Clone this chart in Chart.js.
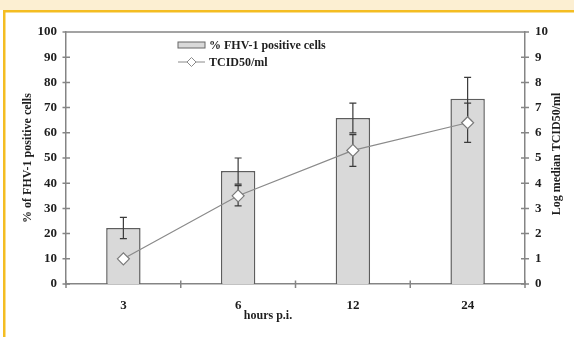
<!DOCTYPE html>
<html><head><meta charset="utf-8">
<script src="https://cdn.jsdelivr.net/npm/chart.js@4"></script>
<style>html,body{margin:0;padding:0;background:#fff}#wrap{width:574px;height:337px;position:relative}</style>
</head><body><div id="wrap"><canvas id="c" width="574" height="337"></canvas></div>
<script>
const categories = ['3', '6', '12', '24'];
const positiveCells = [22.2, 44.8, 65.9, 73.5];
const positiveCellsErr = [4.2, 5.2, 5.9, 8.5];
const tcid50 = [1.0, 3.5, 5.3, 6.4];
const tcid50Err = [0, 0.4, 0.63, 0.78];
const barLabel = '% FHV-1 positive cells';
const lineLabel = 'TCID50/ml';
const xTitle = 'hours p.i.';
const yTitle = '% of FHV-1 positive cells';
const y2Title = 'Log median TCID50/ml';

const FONT = '"Liberation Serif", "Times New Roman", serif';
const AXIS = '#858585';
const TXT = '#1e1e1e';

const framePlugin = {
  id: 'frame',
  beforeDraw(chart) {
    const ctx = chart.ctx;
    ctx.save();
    ctx.fillStyle = '#ffffff';
    ctx.fillRect(0, 0, chart.width, chart.height);
    ctx.fillStyle = '#fcefd2';
    ctx.fillRect(0, 0, chart.width, 10);
    ctx.fillStyle = '#f4bd22';
    ctx.fillRect(3, 10, chart.width - 3, 2.5);
    ctx.fillRect(3, 10, 2.5, chart.height - 10);
    ctx.restore();
  }
};

function drawErr(ctx, x, y1, y2) {
  ctx.beginPath();
  ctx.moveTo(x, y1); ctx.lineTo(x, y2);
  ctx.moveTo(x - 3.5, y1); ctx.lineTo(x + 3.5, y1);
  ctx.moveTo(x - 3.5, y2); ctx.lineTo(x + 3.5, y2);
  ctx.stroke();
}

const errPlugin = {
  id: 'errs',
  afterDatasetDraw(chart, args) {
    if (args.index !== 0) return;
    const ctx = chart.ctx, xs = chart.scales.x, y = chart.scales.y, y2 = chart.scales.y2;
    ctx.save();
    ctx.strokeStyle = '#3a3a3a';
    ctx.lineWidth = 1.2;
    categories.forEach((c, i) => {
      const x = xs.getPixelForValue(i);
      drawErr(ctx, x, y.getPixelForValue(positiveCells[i] + positiveCellsErr[i]), y.getPixelForValue(positiveCells[i] - positiveCellsErr[i]));
      if (tcid50Err[i] > 0) drawErr(ctx, x, y2.getPixelForValue(tcid50[i] + tcid50Err[i]), y2.getPixelForValue(tcid50[i] - tcid50Err[i]));
    });
    ctx.restore();
  }
};

const decoPlugin = {
  id: 'deco',
  afterDraw(chart) {
    const ctx = chart.ctx, a = chart.chartArea, xs = chart.scales.x, y = chart.scales.y, y2 = chart.scales.y2;
    ctx.save();
    ctx.strokeStyle = AXIS;
    ctx.lineWidth = 1.5;
    ctx.beginPath();
    ctx.moveTo(a.left, a.top); ctx.lineTo(a.right, a.top);
    y.ticks.forEach(t => { const p = y.getPixelForValue(t.value); ctx.moveTo(a.left - 3.5, p); ctx.lineTo(a.left + 4, p); });
    y2.ticks.forEach(t => { const p = y2.getPixelForValue(t.value); ctx.moveTo(a.right - 4, p); ctx.lineTo(a.right + 4, p); });
    const half = (xs.getPixelForValue(1) - xs.getPixelForValue(0)) / 2;
    for (let i = 0; i <= categories.length; i++) {
      const p = xs.getPixelForValue(0) - half + i * half * 2;
      ctx.moveTo(p, a.bottom - 3.5); ctx.lineTo(p, a.bottom + 4);
    }
    ctx.stroke();

    // titles
    ctx.fillStyle = TXT;
    ctx.font = 'bold 12px ' + FONT;
    ctx.textAlign = 'center';
    ctx.textBaseline = 'middle';
    ctx.fillText(xTitle, 268, 316);
    ctx.save(); ctx.translate(28, 158); ctx.rotate(-Math.PI / 2); ctx.fillText(yTitle, 0, 0); ctx.restore();
    ctx.save(); ctx.translate(557, 154); ctx.rotate(-Math.PI / 2); ctx.fillText(y2Title, 0, 0); ctx.restore();

    // legend
    ctx.textAlign = 'left';
    ctx.fillStyle = '#d9d9d9';
    ctx.fillRect(178, 42, 27, 6);
    ctx.strokeStyle = '#666';
    ctx.lineWidth = 1;
    ctx.strokeRect(178, 42, 27, 6);
    ctx.fillStyle = TXT;
    ctx.fillText(barLabel, 209, 45.5);
    ctx.strokeStyle = '#8a8a8a';
    ctx.beginPath(); ctx.moveTo(178, 62); ctx.lineTo(205, 62); ctx.stroke();
    ctx.fillStyle = '#fff';
    ctx.beginPath();
    ctx.moveTo(191.5, 57.5); ctx.lineTo(196, 62); ctx.lineTo(191.5, 66.5); ctx.lineTo(187, 62); ctx.closePath();
    ctx.fill(); ctx.stroke();
    ctx.fillStyle = TXT;
    ctx.fillText(lineLabel, 209, 62.5);
    ctx.restore();
  }
};

new Chart(document.getElementById('c'), {
  data: {
    labels: categories,
    datasets: [
      { type: 'bar', label: barLabel, data: positiveCells, yAxisID: 'y', order: 2,
        backgroundColor: '#d9d9d9', borderColor: '#5e5e5e', borderWidth: 1.5,
        barPercentage: 0.3, categoryPercentage: 1 },
      { type: 'line', label: lineLabel, data: tcid50, yAxisID: 'y2', order: 1,
        borderColor: '#8a8a8a', borderWidth: 1.2, pointStyle: 'rectRot', pointRadius: 6,
        pointBackgroundColor: '#ffffff', pointBorderColor: '#7a7a7a', pointBorderWidth: 1.2, tension: 0 }
    ]
  },
  options: {
    responsive: false,
    devicePixelRatio: 1,
    animation: false,
    layout: { padding: { top: 32, left: 0, right: 0, bottom: 0 } },
    plugins: { legend: { display: false }, tooltip: { enabled: false } },
    scales: {
      x: {
        offset: true,
        grid: { display: false, drawTicks: false },
        border: { display: true, color: AXIS, width: 1.5 },
        ticks: { color: TXT, font: { family: FONT, weight: 'bold', size: 13 }, padding: 14 },
        afterFit(s) { s.height = 53; }
      },
      y: {
        position: 'left', min: 0, max: 100,
        grid: { display: false, drawTicks: false },
        border: { display: true, color: AXIS, width: 1.5 },
        ticks: { stepSize: 10, color: TXT, font: { family: FONT, weight: 'bold', size: 13 }, padding: 9 },
        afterFit(s) { s.width = 66; }
      },
      y2: {
        position: 'right', min: 0, max: 10,
        grid: { display: false, drawTicks: false },
        border: { display: true, color: AXIS, width: 1.5 },
        ticks: { stepSize: 1, color: TXT, font: { family: FONT, weight: 'bold', size: 13 }, padding: 10 },
        afterFit(s) { s.width = 49; }
      }
    }
  },
  plugins: [framePlugin, errPlugin, decoPlugin]
});
</script>
</body></html>
